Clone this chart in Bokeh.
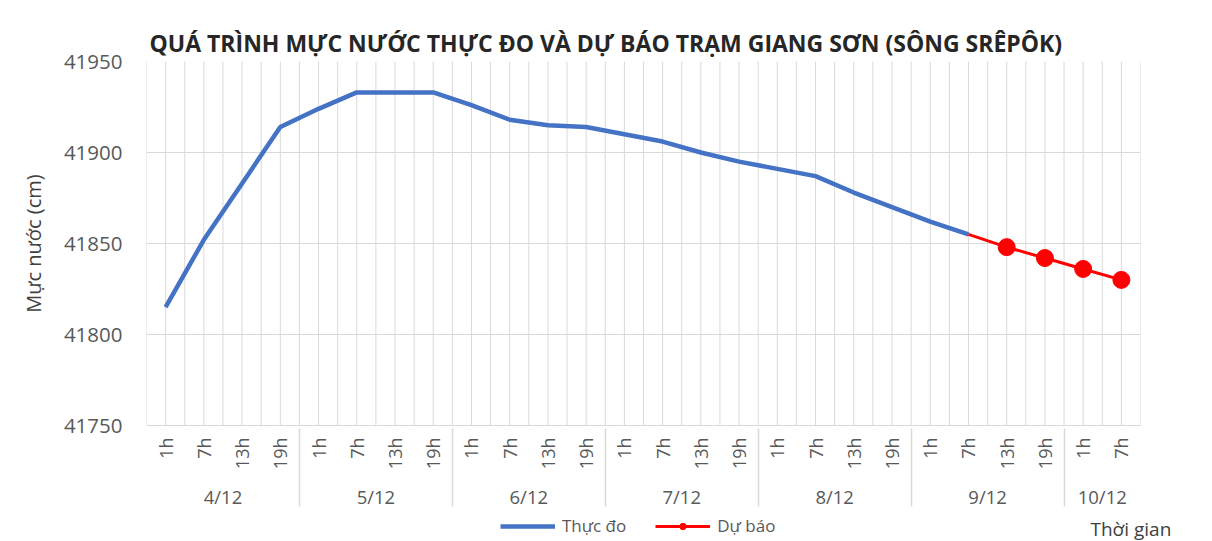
import math
from bokeh.plotting import figure
from bokeh.layouts import column
from bokeh.models import (FactorRange, Range1d, FixedTicker, Legend, LegendItem, LinearAxis)
from bokeh.embed import file_html
from bokeh.resources import INLINE

# ---------------- data ----------------
title_text = "QUÁ TRÌNH MỰC NƯỚC THỰC ĐO VÀ DỰ BÁO TRẠM GIANG SƠN (SÔNG SRÊPÔK)"
y_title = "Mực nước (cm)"
x_title = "Thời gian"

days = ["4/12"] * 4 + ["5/12"] * 4 + ["6/12"] * 4 + ["7/12"] * 4 + \
       ["8/12"] * 4 + ["9/12"] * 4 + ["10/12"] * 2
hours = ["1h", "7h", "13h", "19h"] * 6 + ["1h", "7h"]

# measured (Thực đo): 4/12 1h .. 9/12 7h
observed = [41815, 41852, 41883, 41914,
            41924, 41933, 41933, 41933,
            41926, 41918, 41915, 41914,
            41910, 41906, 41900, 41895,
            41891, 41887, 41878, 41870,
            41862, 41855]
# forecast (Dự báo): 9/12 7h .. 10/12 7h
forecast = [41855, 41848, 41842, 41836, 41830]

y_ticks = [41750, 41800, 41850, 41900, 41950]

series_names = ["Thực đo", "Dự báo"]
# --------------------------------------

factors = list(zip(days, hours))
n = len(factors)
obs_x = factors[:len(observed)]
fc_x = factors[n - len(forecast):]

FONT = "Open Sans"
GRID = "#d9d9d9"
TXT = "#595959"
BLUE = "#4472C4"
RED = "#FF0000"
W = 1208
LEFT = 146
FW = 994

p = figure(
    x_range=FactorRange(*factors, factor_padding=0, group_padding=0,
                        subgroup_padding=0, range_padding=0),
    y_range=Range1d(y_ticks[0], y_ticks[-1]),
    frame_width=FW, frame_height=364,
    min_border_left=LEFT, min_border_right=W - LEFT - FW,
    min_border_top=61, min_border_bottom=88,
    output_backend="svg", toolbar_location=None,
    background_fill_color="white", border_fill_color="white",
)
p.outline_line_color = None

# title
p.title.text = title_text
p.title.align = "left"
p.title.offset = 3
p.title.standoff = 5
p.title.text_font = FONT
p.title.text_font_size = "23px"
p.title.text_font_style = "bold"
p.title.text_color = "#262626"

# gridlines
p.xgrid.visible = False
p.ygrid.grid_line_color = GRID
p.ygrid.grid_line_width = 1

# vertical gridlines at category centres and boundaries
vx = [k * 0.5 for k in range(2 * n + 1)]
p.segment(x0=vx, y0=[y_ticks[0]] * len(vx), x1=vx, y1=[y_ticks[-1]] * len(vx),
          line_color=GRID, line_width=1, level="underlay")

# y axis
ya = p.yaxis[0]
ya.ticker = FixedTicker(ticks=y_ticks)
ya.axis_line_color = None
ya.major_tick_line_color = None
ya.minor_tick_line_color = None
ya.major_tick_out = 0
ya.major_tick_in = 0
ya.major_label_text_font = FONT
ya.major_label_text_font_size = "20.5px"
ya.major_label_text_color = TXT
ya.major_label_standoff = 24
ya.axis_label = y_title
ya.axis_label_text_font = FONT
ya.axis_label_text_font_size = "20px"
ya.axis_label_text_font_style = "normal"
ya.axis_label_text_color = "#404040"
ya.axis_label_standoff = 14

# x axis
xa = p.xaxis[0]
xa.axis_line_color = GRID
xa.major_tick_line_color = None
xa.minor_tick_line_color = None
xa.major_tick_out = 0
xa.major_tick_in = 0
xa.major_label_orientation = math.pi / 2
xa.major_label_text_font = FONT
xa.major_label_text_font_size = "18px"
xa.major_label_text_color = TXT
xa.major_label_standoff = 12
xa.group_text_font = FONT
xa.group_text_font_size = "18.5px"
xa.group_text_font_style = "normal"
xa.group_text_color = TXT
xa.group_label_orientation = "horizontal"
xa.separator_line_color = GRID
xa.separator_line_width = 1.5

# series
p.line(x=obs_x, y=observed, line_color=BLUE, line_width=4.5)
p.line(x=fc_x, y=forecast, line_color=RED, line_width=3)
p.scatter(x=fc_x[1:], y=forecast[1:], size=17, marker="circle",
          fill_color=RED, line_color=RED)

# ---- legend strip (same series styles), below the chart ----
H2 = 28
q = figure(width=W, height=H2, x_range=Range1d(LEFT, LEFT + FW), y_range=Range1d(0, H2),
           min_border_left=LEFT, min_border_right=W - LEFT - FW,
           min_border_top=0, min_border_bottom=0,
           x_axis_type=None, y_axis_type=None,
           output_backend="svg", toolbar_location=None,
           background_fill_color="white", border_fill_color="white")
q.outline_line_color = None
q.grid.visible = False
# legend proxies placed outside the visible range
lb = q.line(x=[0, 10], y=[-20, -20], line_color=BLUE, line_width=4.5)
lr = q.line(x=[0, 10], y=[-20, -20], line_color=RED, line_width=3)
lm = q.scatter(x=[5], y=[-20], size=17, marker="circle", fill_color=RED, line_color=RED)

legend = Legend(items=[LegendItem(label=series_names[0], renderers=[lb]),
                       LegendItem(label=series_names[1], renderers=[lr, lm])],
                orientation="horizontal", location=(500 - LEFT, 4),
                padding=0, margin=0, spacing=29, glyph_width=55, glyph_height=16,
                label_height=18, label_standoff=7, border_line_color=None,
                background_fill_alpha=0,
                label_text_font=FONT, label_text_font_size="17px", label_text_color=TXT)
q.add_layout(legend)

# "Thời gian" as the single tick label of an axis at the right edge of the strip
tpos = 13
ax_t = LinearAxis(ticker=FixedTicker(ticks=[tpos]), major_label_overrides={tpos: x_title})
ax_t.axis_line_color = None
ax_t.major_tick_line_color = None
ax_t.minor_tick_line_color = None
ax_t.major_tick_out = 0
ax_t.major_tick_in = 0
ax_t.major_label_standoff = -50
ax_t.major_label_text_font = FONT
ax_t.major_label_text_font_size = "19px"
ax_t.major_label_text_color = "#404040"
q.add_layout(ax_t, "right")

layout = column(p, q, spacing=0)
open("out.html", "w").write(file_html(layout, INLINE))
